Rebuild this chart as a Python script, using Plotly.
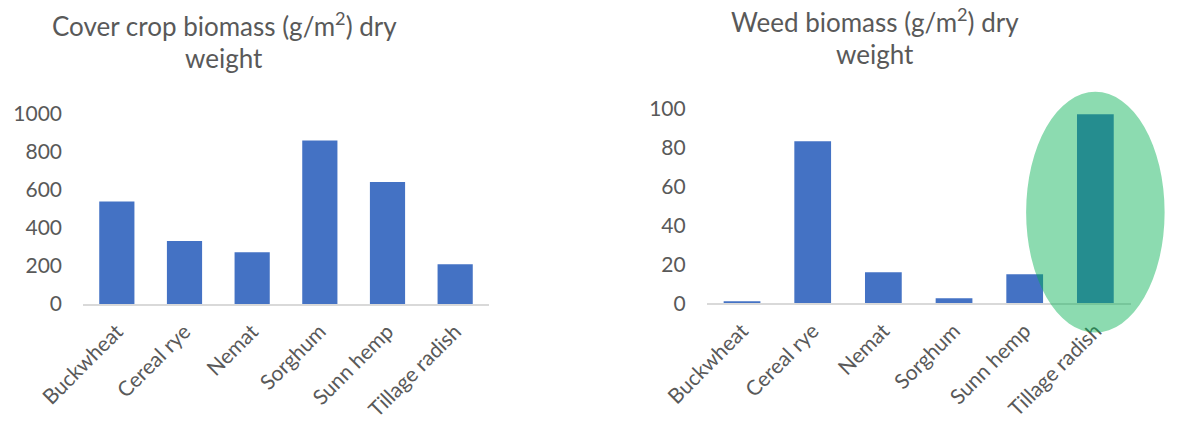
import plotly.graph_objects as go

# Cover crop trial: dry-weight biomass per cover crop
crops = ["Buckwheat", "Cereal rye", "Nemat", "Sorghum", "Sunn hemp", "Tillage radish"]
cover_biomass = [537, 330, 271, 857, 640, 209]
weed_biomass = [0.8, 83.1, 15.9, 2.6, 14.9, 96.9]

cover_ticks = [0, 200, 400, 600, 800, 1000]
weed_ticks = [0, 20, 40, 60, 80, 100]

W, H = 1181, 425
BAR = "#4472C4"
GRID_TXT = "#595959"
AXIS_LINE = "#D9D9D9"
FONT = "Lato"

# subplot placement in pixels
left_x = (83, 489)
left_y = (304, 113.3)      # baseline, top tick
right_x = (706.7, 1130.7)
right_y = (303.3, 108.3)

def px_x(p):
    return p / W

def px_y(p):
    return 1 - p / H

fig = go.Figure()
fig.add_trace(go.Bar(x=crops, y=cover_biomass, marker_color=BAR,
                     marker_line_width=0, xaxis="x", yaxis="y", width=0.52))
fig.add_trace(go.Bar(x=crops, y=weed_biomass, marker_color=BAR,
                     marker_line_width=0, xaxis="x2", yaxis="y2", width=0.52))

tickfont = dict(family=FONT, size=21, color=GRID_TXT)
xcommon = dict(type="category", tickangle=-45, showgrid=False, showline=True,
               linecolor=AXIS_LINE, linewidth=2, ticks="",
               tickfont=dict(family=FONT, size=21, color=GRID_TXT),
               ticklabelstandoff=5,
               range=[-0.5, 5.5], fixedrange=True, automargin=False)
ycommon = dict(showgrid=False, showline=False, zeroline=False, ticks="",
               tickfont=tickfont, ticklabelstandoff=20, fixedrange=True,
               automargin=False)

fig.update_layout(
    width=W, height=H, autosize=False,
    margin=dict(l=0, r=0, t=0, b=0),
    paper_bgcolor="white", plot_bgcolor="white",
    showlegend=False,
    xaxis=dict(xcommon, domain=[px_x(left_x[0]), px_x(left_x[1])], anchor="y"),
    yaxis=dict(ycommon, domain=[px_y(left_y[0]), px_y(left_y[1])], anchor="x",
               range=[0, 1000], tickvals=cover_ticks),
    xaxis2=dict(xcommon, domain=[px_x(right_x[0]), px_x(right_x[1])], anchor="y2"),
    yaxis2=dict(ycommon, domain=[px_y(right_y[0]), px_y(right_y[1])], anchor="x2",
                range=[0, 100], tickvals=weed_ticks),
)

titlefont = dict(family=FONT, size=26, color=GRID_TXT)
titles = [
    ("Cover crop biomass (g/m<sup>2</sup>) dry", 224, 24),
    ("weight", 224, 58),
    ("Weed biomass (g/m<sup>2</sup>) dry", 875, 20),
    ("weight", 875, 54),
]
for text, cx, cy in titles:
    fig.add_annotation(text=text, x=px_x(cx), y=px_y(cy), xref="paper", yref="paper",
                       xanchor="center", yanchor="middle", showarrow=False, font=titlefont)

# highlight ellipse around the Tillage radish weed bar
idx = crops.index("Tillage radish")
cat_w = (right_x[1] - right_x[0]) / len(crops)
unit_h = (right_y[0] - right_y[1]) / 100
cx = right_x[0] + (idx + 0.5) * cat_w
half_w = 0.98 * cat_w
y_top_val, y_bot_val = 108.5, -15
fig.add_shape(type="circle", xref="paper", yref="paper",
              x0=px_x(cx - half_w), x1=px_x(cx + half_w),
              y0=px_y(right_y[0] - y_bot_val * unit_h),
              y1=px_y(right_y[0] - y_top_val * unit_h),
              fillcolor="#00B050", opacity=0.45, line_width=0, layer="above")

fig.write_html("out.html")
